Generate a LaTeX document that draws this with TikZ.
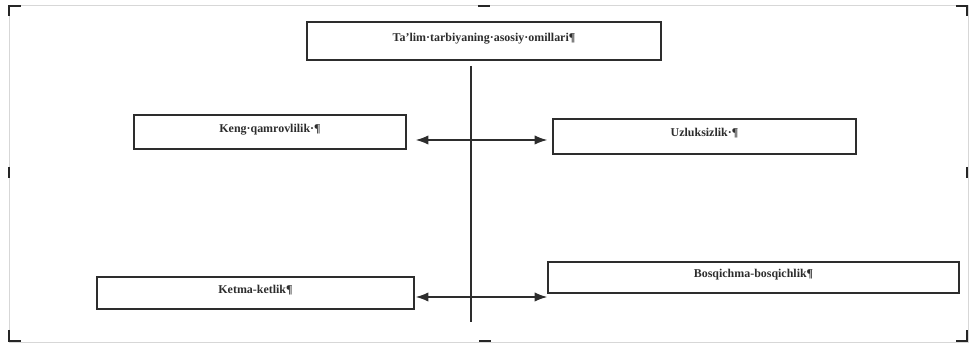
\documentclass[tikz,border=0pt]{standalone}
\usepackage{fontspec}
\setmainfont{Liberation Serif}
\usetikzlibrary{calc,arrows.meta,positioning}
\definecolor{framegray}{RGB}{215,215,215}
\definecolor{inkgray}{RGB}{45,45,45}
\tikzset{
  factorbox/.style args={#1,#2}{
  draw=inkgray,
  line width=1.3pt,
  minimum width=#1 cm,
  minimum height=#2 cm,
  inner sep=0pt,
  text height=7pt,
  text depth=6.5pt,
  text=inkgray,
  font=\bfseries\fontsize{10.2}{12}\selectfont,
  },
  twoway/.style={{Latex[length=3.8mm,width=2.8mm]}-{Latex[length=3.8mm,width=2.8mm]},line width=1.1pt,draw=inkgray},
  handle/.style={line width=2pt,draw=black!85},
}

\begin{document}
\begin{tikzpicture}[x=0.03cm,y=-0.03cm]
  \useasboundingbox (0,0) rectangle (969,343);

  % canvas frame with its handles
  \draw[framegray,line width=0.8pt] (9,5) rectangle (968,342);
  \draw[handle] (9,16) -- (9,6) -- (21,6);
  \draw[handle] (956,6) -- (967,6) -- (967,16);
  \draw[handle] (9,330) -- (9,341) -- (21,341);
  \draw[handle] (956,341) -- (967,341) -- (967,330);
  \draw[handle] (478,6) -- (490,6);
  \draw[handle] (479,341) -- (491,341);
  \draw[handle] (9,167) -- (9,178);
  \draw[handle] (967,167) -- (967,178);

  \node [factorbox={10.62,1.14}] (main) at (484,41) {Ta’lim·tarbiyaning·asosiy·omillari¶};
  \node [factorbox={8.16,1.02}] (keng) at (270,132) {Keng·qamrovlilik·¶};
  \node [factorbox={9.09,1.05}] (uzl) at (704.5,136.5) {Uzluksizlik·¶};
  \node [factorbox={9.51,0.96}] (ketma) at (255.5,293) {Ketma-ketlik¶};
  \node [factorbox={12.33,0.93}] (bosq) at (753.5,277.5) {Bosqichma-bosqichlik¶};

  \coordinate (spinetop) at ($(main.south)+(-13,5)$);
  \coordinate (spinebot) at (spinetop |- 0,322);
  \draw[line width=1.1pt,inkgray] (spinetop) -- (spinebot);

  \draw[twoway] ($(keng.east)+(9,8)$) -- ($(uzl.west)+(-5,3.5)$);
  \draw[twoway] ($(ketma.east)+(1,4)$) -- ($(bosq.west)+(0,19.5)$);

\end{tikzpicture}
\end{document}
